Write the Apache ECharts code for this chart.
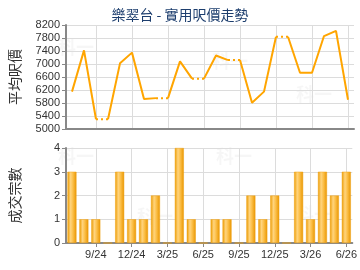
<!DOCTYPE html>
<html><head><meta charset="utf-8">
<script src="https://cdn.jsdelivr.net/npm/echarts@6/dist/echarts.min.js"></script>
<style>html,body{margin:0;padding:0;background:#fff}#c{width:360px;height:270px}</style>
</head><body><div id="c"></div>
<script>
const titleText = '樂翠台 - 實用呎價走勢';
const months = ['7/24','8/24','9/24','10/24','11/24','12/24','1/25','2/25','3/25','4/25','5/25','6/25','7/25','8/25','9/25','10/25','11/25','12/25','1/26','2/26','3/26','4/26','5/26','6/26'];
const avgPrice = [6150,7420,5300,5300,7020,7350,5920,5950,5950,7080,6550,6550,7260,7120,7120,5810,6150,7840,7840,6730,6730,7860,8020,5900];
const deals = [3,1,1,0,3,1,1,2,0,4,1,0,1,1,0,2,1,2,0,3,1,3,2,3];
const priceTicks = {min:5000, max:8200, step:400};
const dealTicks = {min:0, max:4, step:1};

const chart = echarts.init(document.getElementById('c'), null, {renderer:'canvas'});
const lineColor = '#ffa500';
const font = 'Liberation Sans, Arial, sans-serif';
const cjk = 'Noto Sans CJK TC, sans-serif';
const showIdx = (i) => i % 3 === 2;

const series = [];
let runStart = 0;
const dotted = new Array(months.length).fill(null);
for (let i = 0; i < months.length; i++) {
  const endRun = (i === months.length - 1) || deals[i+1] === 0;
  if (endRun) {
    const d = avgPrice.map((v, k) => (k >= runStart && k <= i) ? v : null);
    series.push({type:'line', xAxisIndex:0, yAxisIndex:0, data:d, symbol:'none', connectNulls:false,
      lineStyle:{color:lineColor, width:2}, z:3, silent:true});
    if (i < months.length - 1) { dotted[i] = avgPrice[i]; dotted[i+1] = avgPrice[i+1]; }
    runStart = i + 1;
  }
}
series.push({type:'line', xAxisIndex:0, yAxisIndex:0, data:dotted, symbol:'none', connectNulls:false,
  lineStyle:{color:lineColor, width:2, type:[2,3]}, z:3, silent:true});
series.push({type:'bar', xAxisIndex:1, yAxisIndex:1, data:deals, barWidth:9,
  itemStyle:{color:new echarts.graphic.LinearGradient(0,0,1,0,[
    {offset:0,color:'#eb9b00'},{offset:0.35,color:'#ffd47e'},{offset:0.6,color:'#fcc04a'},{offset:1,color:'#e89500'}]),
    borderColor:'#f0a010', borderWidth:0.5}, silent:true});

const xCommon = (labels) => ({
  type:'category', data:months, boundaryGap:true,
  axisLine:{show:true, lineStyle:{color:'#888', width:2}},
  axisTick:{show:labels, alignWithLabel:true, interval:showIdx, length:4, lineStyle:{color:'#888'}},
  axisLabel:{show:labels, interval:showIdx, color:'#333', fontSize:11, fontFamily:font, margin:6},
  splitLine:{show:true, interval:showIdx, alignWithLabel:true, lineStyle:{color:'#dcdcdc', width:1}}
});
const yCommon = (t, name, gap) => ({
  type:'value', min:t.min, max:t.max, interval:t.step,
  name:name, nameLocation:'middle', nameRotate:90, nameGap:gap,
  nameTextStyle:{fontFamily:cjk, fontSize:14, color:'#333'},
  axisLine:{show:true, lineStyle:{color:'#888', width:2}},
  axisTick:{show:true, length:4, lineStyle:{color:'#888'}},
  axisLabel:{color:'#333', fontSize:11, fontFamily:font, margin:6, formatter:(v) => String(v)},
  splitLine:{show:true, lineStyle:{color:'#dcdcdc', width:1}}
});

const wm = 'rgba(0,0,0,0.035)';
chart.setOption({
  animation:false,
  title:{text:titleText, left:'center', top:3, textStyle:{fontFamily:cjk, fontSize:14, fontWeight:'normal', color:'#1d3e6e'}},
  graphic:[
    {type:'text', left:58, top:38, style:{text:'科一', fill:wm, font:'bold 18px '+cjk}},
    {type:'text', left:212, top:52, style:{text:'科一', fill:wm, font:'bold 18px '+cjk}},
    {type:'text', left:296, top:85, style:{text:'科一', fill:wm, font:'bold 18px '+cjk}},
    {type:'text', left:58, top:147, style:{text:'科一', fill:wm, font:'bold 18px '+cjk}},
    {type:'text', left:137, top:207, style:{text:'科一', fill:wm, font:'bold 18px '+cjk}},
    {type:'text', left:216, top:147, style:{text:'科一', fill:wm, font:'bold 18px '+cjk}},
    {type:'text', left:296, top:205, style:{text:'科一', fill:wm, font:'bold 18px '+cjk}}
  ],
  grid:[
    {left:66, right:6, top:25, height:104},
    {left:66, right:6, top:148, height:95}
  ],
  xAxis:[Object.assign(xCommon(false),{gridIndex:0}), Object.assign(xCommon(true),{gridIndex:1})],
  yAxis:[Object.assign(yCommon(priceTicks,'平均呎價',44),{gridIndex:0}), Object.assign(yCommon(dealTicks,'成交宗數',44),{gridIndex:1})],
  series:series
});
</script></body></html>
